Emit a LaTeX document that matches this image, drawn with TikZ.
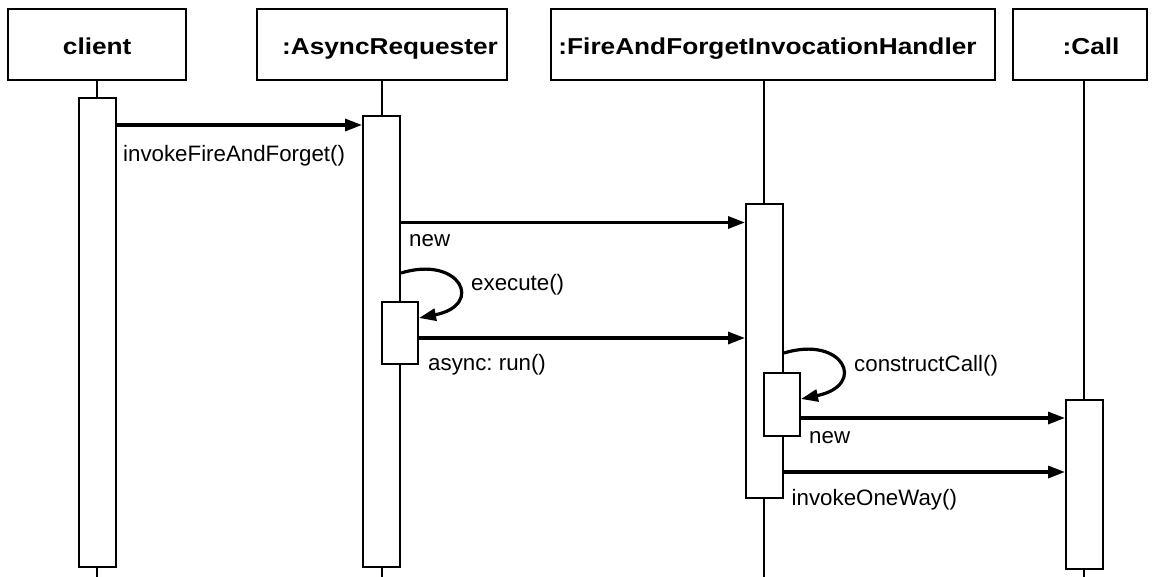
\documentclass[tikz,border=0pt]{standalone}
\usepackage{fontspec}
\setmainfont{Liberation Sans}
\usepackage{graphicx}
\usetikzlibrary{arrows.meta}
\frenchspacing
\newcommand{\hstr}[1]{\scalebox{1.14}[1]{#1}}
\tikzset{
  hdrbox/.style={draw, line width=2.2pt, minimum height=71pt, inner sep=0pt},
  hdrtxt/.style={anchor=base, inner sep=0pt, font=\fontsize{23}{26}\selectfont\bfseries},
  act/.style={draw, fill=white, line width=2pt, inner sep=0pt, minimum width=37pt},
  lifeline/.style={line width=2.6pt},
  msg/.style={line width=3.2pt, -{Triangle[length=17pt,width=12pt]}},
  lbl/.style={anchor=base west, inner sep=0pt, font=\fontsize{22.3}{26}\selectfont},
}
\begin{document}
\begin{tikzpicture}[x=1pt,y=-1pt]
\useasboundingbox (0,0) rectangle (1154,577);
\fill[white] (0,0) rectangle (1154,577);

% header boxes
\node[hdrbox, minimum width=178pt] (clientBox) at (97,44.5) {};
\node[hdrbox, minimum width=250pt] (asyncBox) at (382,44.5) {};
\node[hdrbox, minimum width=444pt] (handlerBox) at (773,44.5) {};
\node[hdrbox, minimum width=134pt] (callBox) at (1080,44.5) {};

\node[hdrtxt] (clientLbl) at (97.2,54.5) {\hstr{client}};
\node[hdrtxt] (asyncLbl) at (390,54.5) {\hstr{:AsyncRequester}};
\node[hdrtxt] (handlerLbl) at (767.5,54.5) {\hstr{:FireAndForgetInvocationHandler}};
\node[hdrtxt] (callLbl) at (1091,54.5) {\hstr{:Call}};

% lifeline ends
\coordinate (clientEnd) at (97,577);
\coordinate (asyncEnd) at (382,577);
\coordinate (handlerEnd) at (764,577);
\coordinate (callEnd) at (1084,577);

\draw[lifeline] (clientEnd |- clientBox.south) -- (clientEnd);
\draw[lifeline] (asyncEnd |- asyncBox.south) -- (asyncEnd);
\draw[lifeline] (handlerEnd |- handlerBox.south) -- (handlerEnd);
\draw[lifeline] (callEnd |- callBox.south) -- (callEnd);

% activation boxes
\node[act, minimum height=469pt] (clientAct) at (97.5,332.5) {};
\node[act, minimum height=451pt] (asyncAct) at (381.5,341.5) {};
\node[act, minimum width=36pt, minimum height=62pt] (nestA) at (400,333) {};
\node[act, minimum height=294pt] (handlerAct) at (764.5,351) {};
\node[act, minimum width=36pt, minimum height=63pt] (nestH) at (782,404.5) {};
\node[act, minimum height=169pt] (callAct) at (1084.5,484.5) {};

% messages
\draw[msg] (clientAct.east |- 0,125) -- (asyncAct.west |- 0,125);
\node[lbl] (m1) at (123,161.7) {invokeFireAndForget()};

\draw[msg] (asyncAct.east |- 0,222.5) -- (handlerAct.west |- 0,222.5);
\node[lbl] (m2) at (409,246.7) {new};

\draw[msg] (asyncAct.east |- 0,273) .. controls (460,255) and (485,305) .. (nestA.east |- 0,318);
\node[lbl] (m3) at (471,290.7) {execute()};

\draw[msg] (nestA.east |- 0,338) -- (handlerAct.west |- 0,338);
\node[lbl] (m4) at (428,370.7) {async: run()};

\draw[msg] (handlerAct.east |- 0,353) .. controls (843,335) and (868,385) .. (nestH.east |- 0,399);
\node[lbl] (m5) at (854,371.7) {constructCall()};

\draw[msg] (nestH.east |- 0,418) -- (callAct.west |- 0,418);
\node[lbl] (m6) at (809,443) {new};

\draw[msg] (handlerAct.east |- 0,472) -- (callAct.west |- 0,472);
\node[lbl] (m7) at (791.5,505) {invokeOneWay()};
\end{tikzpicture}
\end{document}
